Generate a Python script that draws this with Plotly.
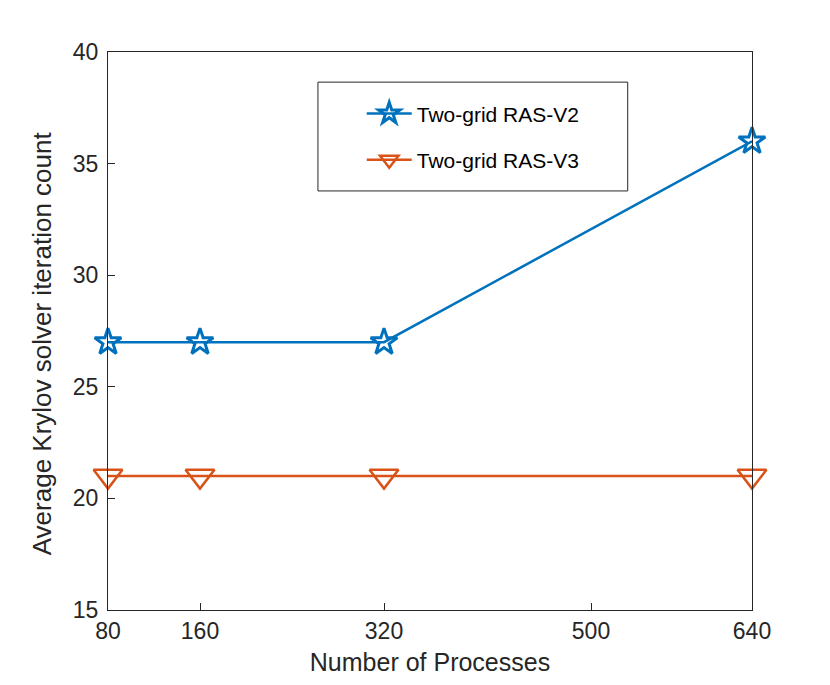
import plotly.graph_objects as go

procs = [80, 160, 320, 640]
ras_v2 = [27, 27, 27, 36]
ras_v3 = [21, 21, 21, 21]
x_ticks = [80, 160, 320, 500, 640]
y_ticks = [15, 20, 25, 30, 35, 40]

blue = '#0072BD'
orange = '#D95319'

fig = go.Figure()
fig.add_trace(go.Scatter(x=procs, y=ras_v2, mode='lines+markers', name='Two-grid RAS-V2',
                         legendgroup='a',
                         line=dict(color=blue, width=2.5),
                         marker=dict(symbol='star-open', size=20, line=dict(width=3, color=blue)),
                         cliponaxis=False))
fig.add_trace(go.Scatter(x=procs, y=ras_v3, mode='lines+markers', name='Two-grid RAS-V3',
                         legendgroup='b',
                         line=dict(color=orange, width=2.5),
                         marker=dict(symbol='triangle-down-open', size=25, line=dict(width=2.5, color=orange)),
                         cliponaxis=False))

axis_style = dict(showline=True, linecolor='#262626', linewidth=1, mirror=True,
                  ticks='inside', ticklen=7, tickcolor='#262626', showgrid=False, zeroline=False,
                  tickfont=dict(size=23, color='#262626'))

# legend box drawn like matlab
fig.add_shape(type='rect', xref='paper', yref='paper', x0=0.326, x1=0.807, y0=0.751, y1=0.946,
              line=dict(color='#262626', width=1), fillcolor='white', layer='below')

# y label sits a bit below the axis centre in the original
fig.add_annotation(text='Average Krylov solver iteration count', textangle=-90,
                   xref='paper', yref='paper', x=0, y=0.478, xanchor='center', yanchor='middle',
                   xshift=-66, showarrow=False, font=dict(size=26, color='#262626'))

fig.update_layout(
    width=830, height=685,
    margin=dict(l=100, r=86, t=44, b=83),
    paper_bgcolor='white', plot_bgcolor='white',
    font=dict(family='Liberation Sans, Arial, sans-serif', color='#262626'),
    xaxis=dict(range=[80, 640], tickvals=x_ticks,
               title=dict(text='Number of Processes', font=dict(size=25), standoff=10), **axis_style),
    yaxis=dict(range=[15, 40], tickvals=y_ticks, ticklabelstandoff=4, **axis_style),
    legend=dict(x=0.394, y=0.926, xanchor='left', yanchor='top',
                borderwidth=0, bgcolor='rgba(0,0,0,0)',
                font=dict(size=21, color='black'), tracegroupgap=16, itemwidth=45),
)

fig.write_html("out.html")
